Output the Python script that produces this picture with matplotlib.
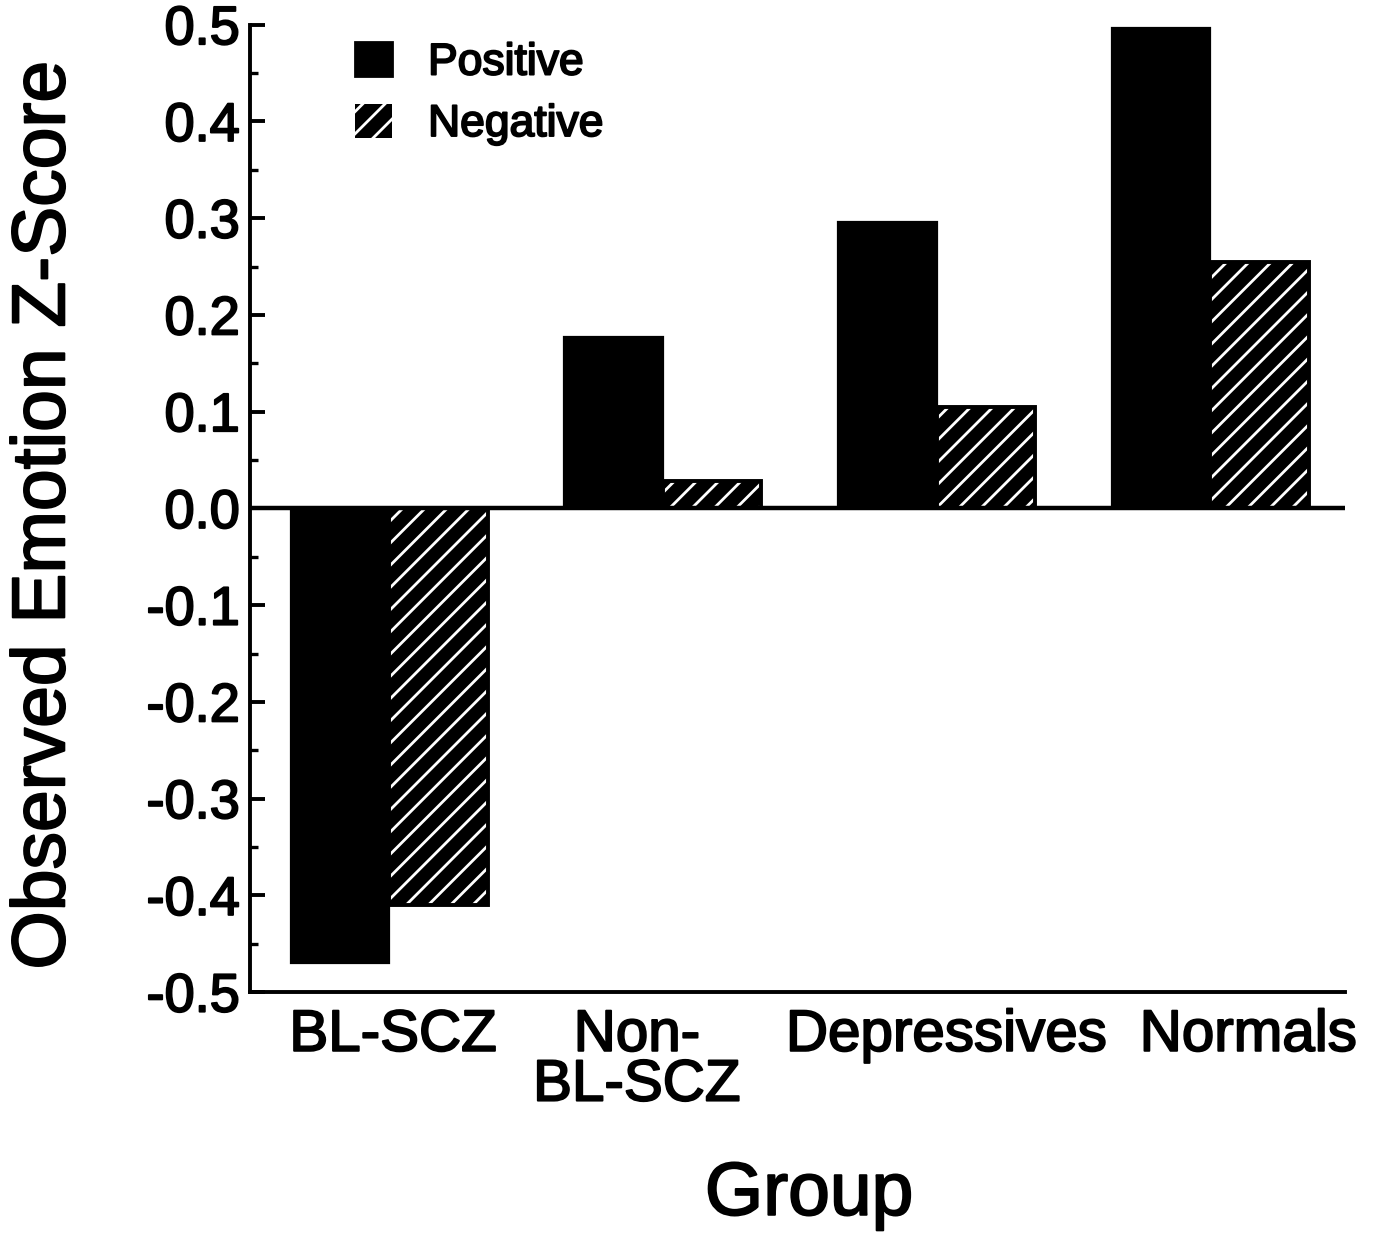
import matplotlib
matplotlib.use('Agg')
import matplotlib.pyplot as plt
import matplotlib.patheffects as pe
from matplotlib.patches import Patch
from matplotlib.ticker import MultipleLocator, FixedLocator, FixedFormatter
from matplotlib.transforms import ScaledTranslation
import numpy as np

groups = ['BL-SCZ', 'Non-\nBL-SCZ', 'Depressives', 'Normals']
positive = [-0.47, 0.177, 0.296, 0.497]
negative = [-0.41, 0.028, 0.105, 0.255]
yticks = [0.5, 0.4, 0.3, 0.2, 0.1, 0.0, -0.1, -0.2, -0.3, -0.4, -0.5]
ytick_labels = ['0.5', '0.4', '0.3', '0.2', '0.1', '0.0',
                '-0.1', '-0.2', '-0.3', '-0.4', '-0.5']

plt.rcParams['font.family'] = ['Liberation Sans', 'DejaVu Sans']
plt.rcParams['hatch.linewidth'] = 1.0

# slight stroke round the glyphs, the scanned original prints heavy
ink = [pe.withStroke(linewidth=0.7, foreground='black')]

fig = plt.figure(figsize=(6.895, 6.17), dpi=200)
ax = fig.add_axes([0.181, 0.196, 0.794, 0.784])

x = np.arange(len(groups))
w = 0.36

# positive bars: solid black
ax.bar(x - w / 2, positive, w, color='black', edgecolor='black', linewidth=0.8)
# negative bars: black with thin white diagonal lines
ax.bar(x + w / 2, negative, w, facecolor='black', edgecolor='white',
       linewidth=0, hatch='///')
ax.bar(x + w / 2, negative, w, fill=False, edgecolor='black', linewidth=1.4)

ax.axhline(0, color='black', linewidth=1.6, zorder=3)

ax.set_xlim(-0.51, 3.49)
ax.set_ylim(-0.5, 0.5)

ax.spines['top'].set_visible(False)
ax.spines['right'].set_visible(False)
ax.spines['left'].set_linewidth(1.4)
ax.spines['bottom'].set_linewidth(1.4)

ax.yaxis.set_major_locator(FixedLocator(yticks))
ax.yaxis.set_major_formatter(FixedFormatter(ytick_labels))
ax.yaxis.set_minor_locator(MultipleLocator(0.05))
ax.tick_params(axis='y', which='major', direction='in', length=5.5, width=1.4,
               labelsize=19.5, pad=3.5)
ax.tick_params(axis='y', which='minor', direction='in', length=3, width=1.2)

ax.set_xticks(x)
ax.set_xticklabels(groups, fontsize=21, linespacing=0.9)
ax.tick_params(axis='x', length=0, pad=6)

# the printed group names sit a little off the bar-pair centres
shifts = [0.02, -0.13, 0.05, 0.19]
for lab, dx in zip(ax.get_xticklabels(), shifts):
    lab.set_transform(lab.get_transform() + ScaledTranslation(dx, 0, fig.dpi_scale_trans))

ax.text(-0.187, 0.493, 'Observed Emotion Z-Score', transform=ax.transAxes,
        rotation=90, ha='center', va='center', fontsize=27)
ax.text(0.511, -0.21, 'Group', transform=ax.transAxes,
        ha='center', va='center', fontsize=27)

handles = [Patch(facecolor='black', edgecolor='black'),
           Patch(facecolor='black', edgecolor='white', linewidth=0, hatch='///')]
ax.legend(handles, ['Positive', 'Negative'], loc='upper left',
          bbox_to_anchor=(0.096, 0.982), frameon=False, fontsize=16,
          handlelength=0.85, handleheight=0.8, handletextpad=0.8,
          labelspacing=0.45, borderaxespad=0, borderpad=0)

for t in fig.findobj(matplotlib.text.Text):
    t.set_path_effects(ink)

fig.savefig('out.png', dpi=200)
